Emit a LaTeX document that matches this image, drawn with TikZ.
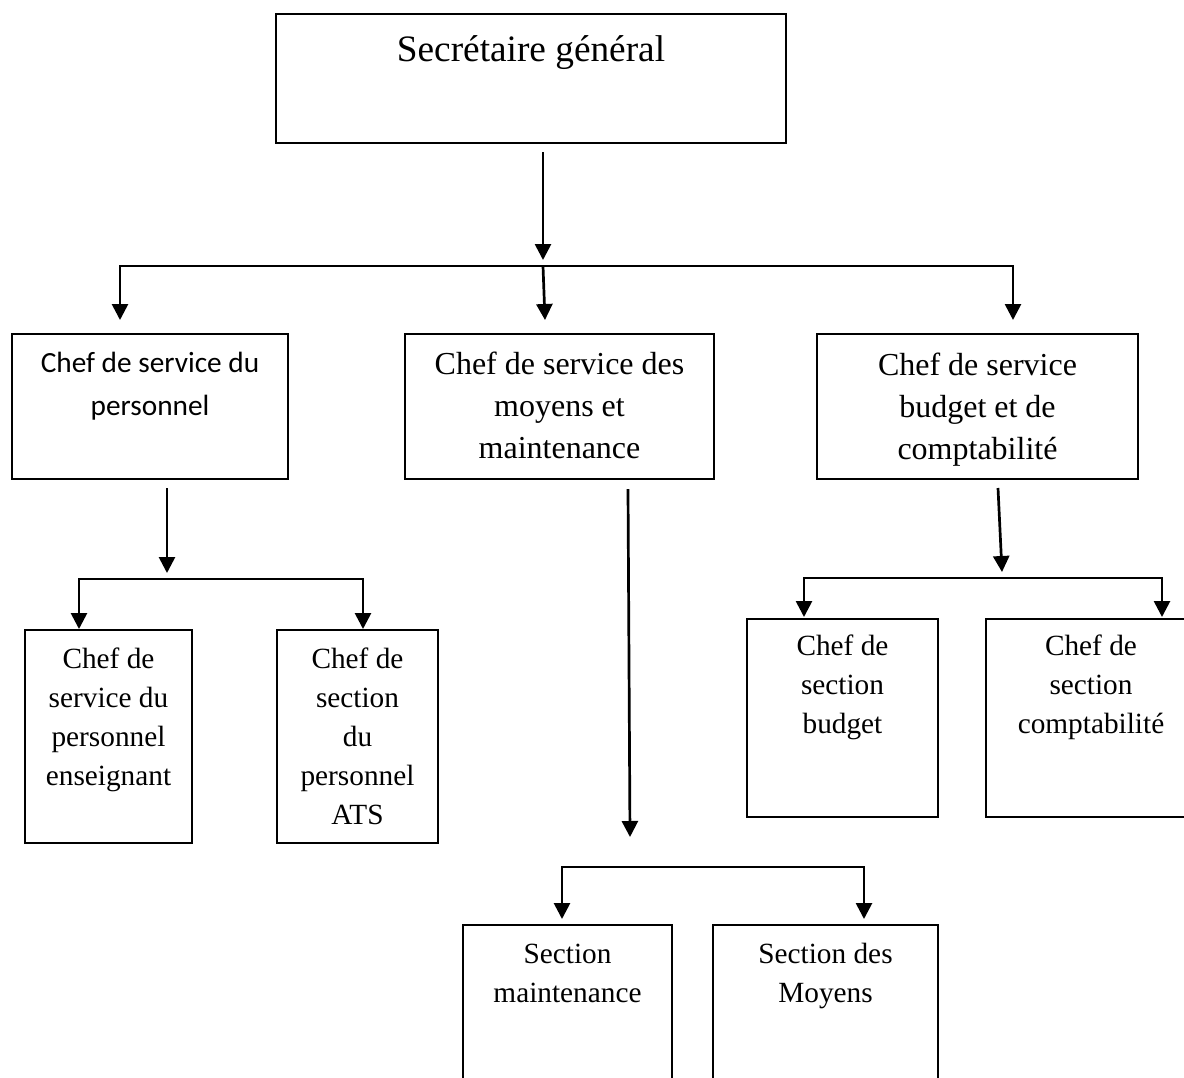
\documentclass[tikz,border=0pt]{standalone}
\usepackage{fontspec}
\setmainfont{Liberation Serif}
\newfontfamily\calibrifont{Carlito}
\usetikzlibrary{arrows.meta,calc}

% centred lines whose first baseline is the node's base
\newcommand\linestack[2]{\vtop{\baselineskip=#1\relax\lineskiplimit=-100pt\halign{\hfil##\hfil\cr#2\crcr}}}

\tikzset{
  box/.style={draw, line width=2.3pt, rectangle, inner sep=0pt, outer sep=0pt, anchor=north west},
  txt/.style={inner sep=0pt, outer sep=0pt, anchor=base},
  big/.style={font=\fontsize{37.3}{44}\selectfont},
  serif12/.style={font=\fontsize{32}{42}\selectfont},
  serif11/.style={font=\fontsize{29.3}{39}\selectfont},
  sans11/.style={font=\calibrifont\fontsize{29.3}{43}\selectfont},
  conn/.style={line width=2.7pt, line join=miter},
  arr/.style={conn, -{Triangle[width=16pt,length=16pt]}},
}

\begin{document}
\begin{tikzpicture}[x=1pt,y=-1pt]
\useasboundingbox (0,0) rectangle (1184,1077);

% boxes
\node[box, minimum width=510pt, minimum height=129pt] (sg) at (276,14) {};
\node[box, minimum width=276pt, minimum height=145pt] (pers) at (12,334) {};
\node[box, minimum width=309pt, minimum height=145pt] (moy) at (405,334) {};
\node[box, minimum width=321pt, minimum height=145pt] (bud) at (817,334) {};
\node[box, minimum width=167pt, minimum height=213pt] (ens) at (25,630) {};
\node[box, minimum width=161pt, minimum height=213pt] (ats) at (277,630) {};
\node[box, minimum width=191pt, minimum height=198pt] (sbud) at (747,619) {};
\node[box, minimum width=210pt, minimum height=198pt] (scpt) at (986,619) {};
\node[box, minimum width=209pt, minimum height=200pt] (smaint) at (463,925) {};
\node[box, minimum width=225pt, minimum height=200pt] (smoy) at (713,925) {};

% texts
\node[txt, big] (sg-t) at (531,61) {Secrétaire général};
\node[txt, sans11] (pers-t) at (150,372) {\linestack{43pt}{Chef de service du\cr personnel}};
\node[txt, serif12] (moy-t) at (559.5,374) {\linestack{42pt}{Chef de service des\cr moyens et\cr maintenance}};
\node[txt, serif12] (bud-t) at (977.5,375) {\linestack{42pt}{Chef de service\cr budget et de\cr comptabilité}};
\node[txt, serif11] (ens-t) at (108.5,668) {\linestack{39pt}{Chef de\cr service du\cr personnel\cr enseignant}};
\node[txt, serif11] (ats-t) at (357.5,668) {\linestack{39pt}{Chef de\cr section\cr du\cr personnel\cr ATS}};
\node[txt, serif11] (sbud-t) at (842.5,655) {\linestack{39pt}{Chef de\cr section\cr budget}};
\node[txt, serif11] (scpt-t) at (1091,655) {\linestack{39pt}{Chef de\cr section\cr comptabilité}};
\node[txt, serif11] (smaint-t) at (567.5,963) {\linestack{39pt}{Section\cr maintenance}};
\node[txt, serif11] (smoy-t) at (825.5,963) {\linestack{39pt}{Section des\cr Moyens}};

% connector points
\coordinate (sg-out) at ($(sg.south)+(12,9)$);
\coordinate (top-tip) at (543,260);
\coordinate (top-w) at (120,266);
\coordinate (top-m) at (543,266);
\coordinate (top-e) at (1013,266);
\coordinate (pers-in) at ($(pers.north west)+(108,-14)$);
\coordinate (moy-in) at ($(moy.north west)+(140,-14)$);
\coordinate (bud-in) at ($(bud.north west)+(196,-14)$);

\coordinate (pers-out) at ($(pers.south west)+(155,9)$);
\coordinate (pers-tip) at (167,573);
\coordinate (pers-w) at (79,579);
\coordinate (pers-e) at (363,579);
\coordinate (ens-in) at ($(ens.north west)+(54,-1)$);
\coordinate (ats-in) at ($(ats.north west)+(86,-1)$);

\coordinate (moy-out) at ($(moy.south west)+(223,10)$);
\coordinate (moy-tip) at (630,837);
\coordinate (moy-w) at (562,867);
\coordinate (moy-e) at (864,867);
\coordinate (smaint-in) at ($(smaint.north west)+(99,-6)$);
\coordinate (smoy-in) at ($(smoy.north west)+(151,-6)$);

\coordinate (bud-out) at ($(bud.south west)+(181,9)$);
\coordinate (bud-tip) at (1002,572);
\coordinate (bud-w) at (804,578);
\coordinate (bud-e) at (1162,578);
\coordinate (sbud-in) at ($(sbud.north west)+(57,-2)$);
\coordinate (scpt-in) at ($(scpt.north west)+(176,-2)$);

% connectors
\draw[arr] (sg-out) -- (top-tip);
\draw[arr] (top-e) -- (top-w) -- (pers-in);
\draw[arr] (top-w) -- (top-e) -- (bud-in);
\draw[arr] (top-m) -- (moy-in);

\draw[arr] (pers-out) -- (pers-tip);
\draw[arr] (pers-e) -- (pers-w) -- (ens-in);
\draw[arr] (pers-w) -- (pers-e) -- (ats-in);

\draw[arr] (moy-out) -- (moy-tip);
\draw[arr] (moy-e) -- (moy-w) -- (smaint-in);
\draw[arr] (moy-w) -- (moy-e) -- (smoy-in);

\draw[arr] (bud-out) -- (bud-tip);
\draw[arr] (bud-e) -- (bud-w) -- (sbud-in);
\draw[arr] (bud-w) -- (bud-e) -- (scpt-in);
\end{tikzpicture}
\end{document}
